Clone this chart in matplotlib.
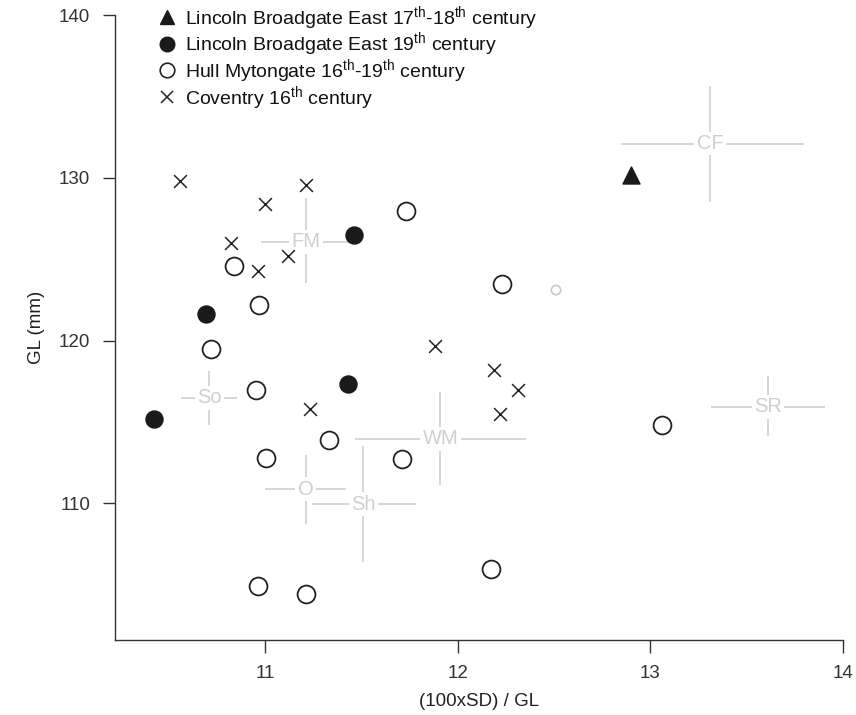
import matplotlib
matplotlib.use("Agg")
import matplotlib.pyplot as plt
from matplotlib.lines import Line2D

plt.rcParams['font.family'] = ['Liberation Sans', 'DejaVu Sans']
plt.rcParams['mathtext.default'] = 'regular'

# Lincoln Broadgate East 17th-18th century
lin1718_x = [12.90]
lin1718_y = [130.2]
# Lincoln Broadgate East 19th century
lin19_x = [10.42, 10.69, 11.46, 11.43]
lin19_y = [115.2, 121.6, 126.5, 117.3]
# Hull Mytongate 16th-19th century
hull_x = [11.73, 10.84, 10.97, 10.72, 12.23, 10.95, 11.33, 11.005, 11.71, 13.06, 12.17, 10.96, 11.21]
hull_y = [127.95, 124.6, 122.2, 119.5, 123.5, 116.95, 113.9, 112.8, 112.7, 114.8, 105.95, 104.9, 104.4]
# Coventry 16th century
cov_x = [10.56, 11.00, 11.21, 10.82, 11.12, 10.96, 11.88, 12.19, 12.31, 12.22, 11.23]
cov_y = [129.8, 128.4, 129.55, 126.0, 125.2, 124.3, 119.65, 118.2, 116.95, 115.5, 115.8]
# single grey reference point
grey_x = [12.51]
grey_y = [123.1]

# Reference ranges (label, x centre, y centre, x min, x max, y min, y max)
ref_labels = ['CF', 'FM', 'So', 'WM', 'O', 'Sh', 'SR']
ref_xc = [13.31, 11.21, 10.71, 11.91, 11.21, 11.51, 13.61]
ref_yc = [132.1, 126.07, 116.48, 113.96, 110.87, 109.95, 115.93]
ref_xmin = [12.85, 10.985, 10.57, 11.47, 11.005, 11.25, 13.32]
ref_xmax = [13.79, 11.457, 10.85, 12.35, 11.416, 11.78, 13.90]
ref_ymin = [128.6, 123.6, 114.86, 111.16, 108.8, 106.44, 114.2]
ref_ymax = [135.6, 128.7, 118.08, 116.75, 112.93, 113.43, 117.77]

fig = plt.figure(figsize=(8.56, 7.15), dpi=100)
ax = fig.add_axes([115/856, 1-640/715, (843-115)/856, (640-15)/715])

grey = '#d6d6d6'
for lab, xc, yc, x0, x1, y0, y1 in zip(ref_labels, ref_xc, ref_yc, ref_xmin, ref_xmax, ref_ymin, ref_ymax):
    ax.plot([x0, x1], [yc, yc], color=grey, lw=1.4, zorder=1)
    ax.plot([xc, xc], [y0, y1], color=grey, lw=1.4, zorder=1)
    ax.text(xc, yc, lab, color='#cfcfcf', fontsize=14.5, ha='center', va='center', zorder=2,
            bbox=dict(boxstyle='square,pad=0.12', fc='white', ec='none'))

ax.scatter(grey_x, grey_y, s=45, facecolors='none', edgecolors='#c8c8c8', linewidths=1.2, zorder=3)
ax.scatter(hull_x, hull_y, s=165, facecolors='white', edgecolors='#222222', linewidths=1.3, zorder=4)
ax.scatter(lin19_x, lin19_y, s=150, color='#1a1a1a', zorder=4)
ax.scatter(lin1718_x, lin1718_y, s=150, marker='^', color='#1a1a1a', zorder=4)
ax.scatter(cov_x, cov_y, s=85, marker='x', color='#222222', linewidths=1.1, zorder=4)

ax.set_xlim(10.22, 14.0)
ax.set_ylim(101.6, 140.0)
ax.set_xticks([11, 12, 13, 14])
ax.set_yticks([110, 120, 130, 140])
for s in ['top', 'right']:
    ax.spines[s].set_visible(False)
for s in ['left', 'bottom']:
    ax.spines[s].set_color('#333333')
    ax.spines[s].set_linewidth(1.0)
ax.tick_params(direction='out', length=9, width=1.0, colors='#333333', labelsize=13.5, pad=9)
ax.set_xlabel('(100xSD) / GL', fontsize=13.5, color='#222222', labelpad=8)
ax.set_ylabel('GL (mm)', fontsize=13.5, color='#222222', labelpad=10)

handles = [
    Line2D([], [], ls='none', marker='^', ms=10, color='#1a1a1a'),
    Line2D([], [], ls='none', marker='o', ms=10.5, color='#1a1a1a'),
    Line2D([], [], ls='none', marker='o', ms=10.5, mfc='white', mec='#222222', mew=1.2),
    Line2D([], [], ls='none', marker='x', ms=8, color='#222222', mew=1.1),
]
labels = [
    'Lincoln Broadgate East 17$^{th}$-18$^{th}$ century',
    'Lincoln Broadgate East 19$^{th}$ century',
    'Hull Mytongate 16$^{th}$-19$^{th}$ century',
    'Coventry 16$^{th}$ century',
]
leg = ax.legend(handles, labels, loc='upper left', bbox_to_anchor=(0.05, 1.03), frameon=False,
                fontsize=14, handlelength=0.8, handletextpad=0.55, labelspacing=-0.07, borderaxespad=0)
for t in leg.get_texts():
    t.set_color('#111111')

fig.savefig('out.png', dpi=100)
